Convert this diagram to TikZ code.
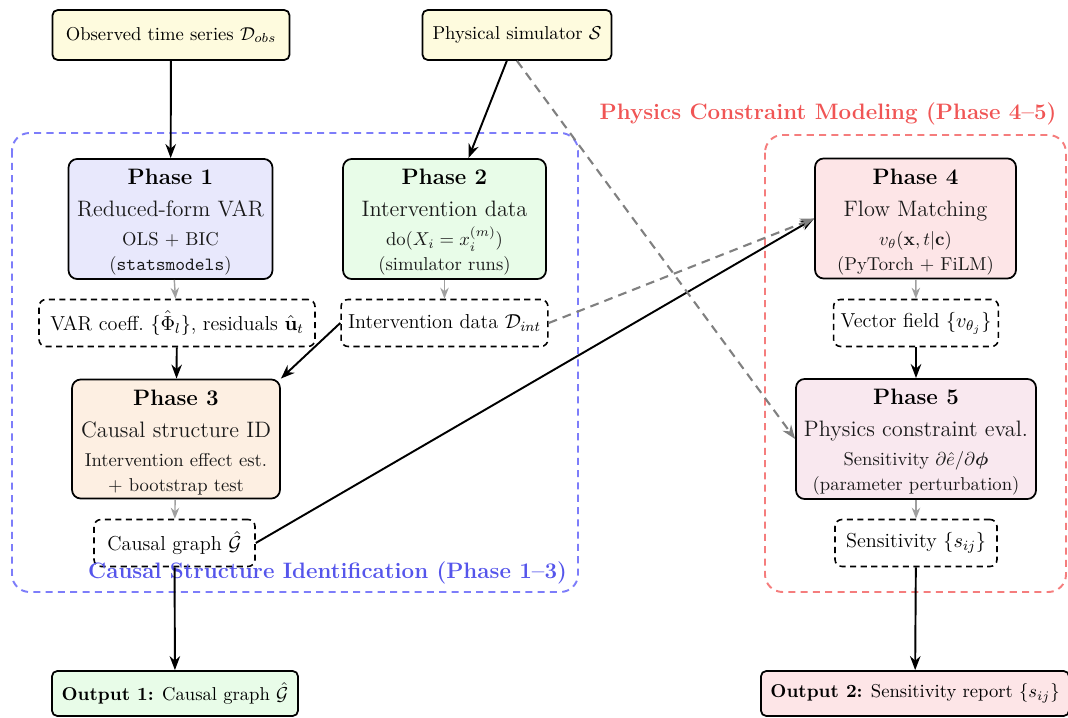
\RequirePackage{fix-cm}
\documentclass[tikz,border=0pt]{standalone}
\usepackage{amsmath,amssymb,bm}
\usepackage{tikz}
\usetikzlibrary{positioning,arrows.meta,calc}
\definecolor{inblue}{RGB}{232,232,252}
\definecolor{ingreen}{RGB}{232,252,232}
\definecolor{inorange}{RGB}{253,239,226}
\definecolor{inred}{RGB}{253,229,231}
\definecolor{inpink}{RGB}{249,232,239}
\definecolor{inyellow}{RGB}{254,251,222}
\definecolor{grpblue}{RGB}{125,125,250}
\definecolor{grpred}{RGB}{245,125,125}
\definecolor{ttlblue}{RGB}{85,85,235}
\definecolor{ttlred}{RGB}{240,85,85}
\newcommand{\fbody}{\fontsize{10.6}{14.2}\selectfont}
\newcommand{\fartf}{\fontsize{11.5}{14}\selectfont}
\newcommand{\fhead}{\fontsize{12.7}{15}\selectfont}
\tikzset{
  phase/.style={draw, rounded corners=5pt, line width=1pt, align=center, minimum height=2.34cm,
                inner sep=2pt, font=\fbody, text=black!90},
  src/.style={draw, rounded corners=3pt, line width=1pt, fill=inyellow, minimum height=1cm,
              font=\fbody, inner xsep=5pt},
  artf/.style={draw, dash pattern=on 3.5pt off 2.5pt, rounded corners=4pt, line width=0.9pt,
               minimum height=0.94cm, font=\fartf, inner xsep=4pt},
  outbox/.style={draw, rounded corners=3pt, line width=1pt, minimum height=0.9cm,
                 font=\fbody, inner xsep=5pt},
  group/.style={dash pattern=on 4pt off 3pt, rounded corners=10pt, line width=1.1pt},
  flow/.style={-{Stealth[length=2.8mm, width=2.1mm]}, line width=1.1pt},
  prod/.style={-{Stealth[length=2.2mm, width=1.7mm]}, line width=0.8pt, gray!75},
  feed/.style={-{Stealth[length=2.8mm, width=2.1mm]}, line width=1.2pt,
               dash pattern=on 5pt off 3.5pt, gray}
}
\newcommand{\phasehead}[2]{{\fhead\bfseries\color{black}\rule{0pt}{12.6pt}Phase #1}\\[4pt]{\fhead #2}\\[2.5pt]}

\begin{document}
\begin{tikzpicture}
    \useasboundingbox (0,0) rectangle (21.36,-14.36);
    % group frames
    \draw[group, grpblue] (0.24,-2.66) rectangle (11.56,-11.84);
    \draw[group, grpred] (15.30,-2.70) rectangle (21.32,-11.84);

    % inputs
    \node[src, minimum width=4.74cm] (obs) at (3.42,-0.70) {Observed time series $\mathcal{D}_{obs}$};
    \node[src, minimum width=3.78cm] (sim) at (10.34,-0.70) {Physical simulator $\mathcal{S}$};

    % phases 1-3
    \node[phase, fill=inblue, minimum width=4.08cm] (p1) at (3.41,-4.38)
      {\phasehead{1}{Reduced-form VAR}OLS + BIC\\(\texttt{statsmodels})};
    \node[phase, fill=ingreen, minimum width=4.06cm] (p2) at (8.89,-4.38)
      {\phasehead{2}{Intervention data}$\mathrm{do}(X_i = x_i^{(m)})$\\(simulator runs)};
    \node[artf, minimum width=5.52cm] (coef) at (3.54,-6.46) {VAR coeff.\ $\{\hat{\Phi}_l\}$, residuals $\hat{\mathbf{u}}_t$};
    \node[artf, minimum width=4.1cm] (intd) at (8.89,-6.46) {Intervention data $\mathcal{D}_{int}$};
    \node[phase, fill=inorange, minimum width=4.16cm, minimum height=2.32cm] (p3) at (3.52,-8.78)
      {\phasehead{3}{Causal structure ID}Intervention effect est.\\+ bootstrap test};
    \node[artf, minimum width=3.22cm] (cg) at (3.49,-10.86) {Causal graph $\hat{\mathcal{G}}$};

    % phases 4-5
    \node[phase, fill=inred, minimum width=4.02cm] (p4) at (18.31,-4.37)
      {\phasehead{4}{Flow Matching}$v_\theta(\mathbf{x}, t|\mathbf{c})$\\(PyTorch + FiLM)};
    \node[artf, minimum width=3.28cm] (vf) at (18.32,-6.46) {Vector field $\{v_{\theta_j}\}$};
    \node[phase, fill=inpink, minimum width=4.8cm] (p5) at (18.32,-8.78)
      {\phasehead{5}{Physics constraint eval.}Sensitivity $\partial\hat{e}/\partial\bm{\phi}$\\(parameter perturbation)};
    \node[artf, minimum width=3.24cm] (sens) at (18.32,-10.86) {Sensitivity $\{s_{ij}\}$};

    % group titles
    \node[font=\fhead\bfseries, text=ttlblue] (ttl1) at (6.55,-11.46) {Causal Structure Identification (Phase 1--3)};
    \node[font=\fhead\bfseries, text=ttlred] (ttl2) at (16.56,-2.28) {Physics Constraint Modeling (Phase 4--5)};

    % outputs
    \node[outbox, fill=ingreen, minimum width=4.92cm] (out1) at (3.50,-13.87) {\textbf{Output 1:} Causal graph $\hat{\mathcal{G}}$};
    \node[outbox, fill=inred, minimum width=6.16cm] (out2) at (18.30,-13.87) {\textbf{Output 2:} Sensitivity report $\{s_{ij}\}$};

    % main flow
    \draw[flow] (obs) -- (p1);
    \draw[flow] (sim) -- (p2);
    \draw[prod] (p1) -- (coef);
    \draw[prod] (p2) -- (intd);
    \draw[flow] (coef) -- (p3);
    \draw[flow] (intd.west) -- (p3.north east);
    \draw[prod] (p3) -- (cg);
    \draw[flow] (cg.east) -- (p4.west);
    \draw[feed] (intd.east) -- (p4.west);
    \draw[feed] (sim.south) -- (p5.west);
    \draw[prod] (p4) -- (vf);
    \draw[flow] (vf) -- (p5);
    \draw[prod] (p5) -- (sens);
    \draw[flow] (cg) -- (out1);
    \draw[flow] (sens) -- (out2);
\end{tikzpicture}
\end{document}
